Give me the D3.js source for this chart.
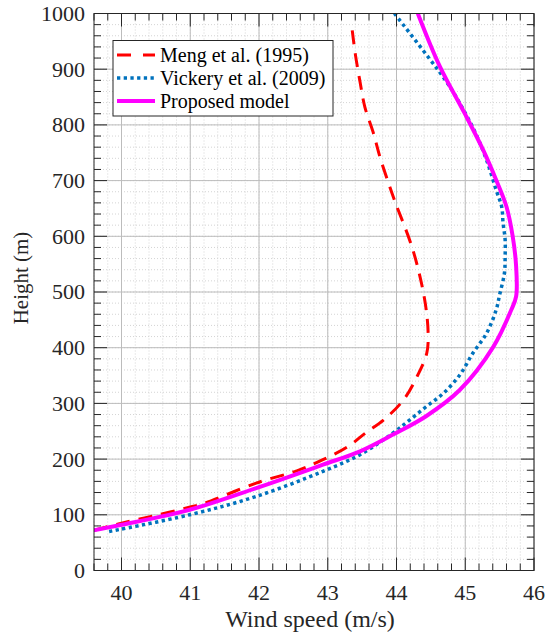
<!DOCTYPE html>
<html>
<head>
<meta charset="utf-8">
<script src="https://cdn.jsdelivr.net/npm/d3@7"></script>
<style>
  body { margin: 0; background: #fff; }
</style>
</head>
<body>
<div id="chart"></div>
<script>
// values (height in m, speed in m/s)
const seriesNames = ['Meng et al. (1995)', 'Vickery et al. (2009)', 'Proposed model'];

const mengHeight = [72, 85, 99, 114, 120, 157, 179, 199, 223, 247, 270, 306, 351, 390, 426, 486, 575, 665, 697, 742, 787, 832, 877, 928, 976];
const mengSpeed  = [39.6, 40.0, 40.5, 41.0, 41.19, 41.96, 42.55, 42.93, 43.30, 43.55, 43.81, 44.10, 44.31, 44.44, 44.46, 44.41, 44.24, 43.97, 43.88, 43.76, 43.66, 43.54, 43.47, 43.40, 43.35];

const vickHeight = [70, 100, 133, 178, 208, 247, 270, 294, 318, 351, 390, 426, 468, 495, 534, 564, 594, 624, 653, 683, 737, 785, 839, 877, 922, 1000];
const vickSpeed  = [39.82, 40.99, 41.96, 42.93, 43.47, 43.95, 44.19, 44.43, 44.68, 44.92, 45.11, 45.31, 45.45, 45.50, 45.57, 45.58, 45.58, 45.55, 45.53, 45.45, 45.31, 45.15, 44.92, 44.73, 44.46, 43.97];

const propHeight = [72, 82, 109, 148, 190, 214, 244, 277, 324, 402, 468, 492, 546, 600, 653, 701, 755, 821, 905, 1000];
const propSpeed  = [39.59, 40.0, 40.99, 41.96, 42.93, 43.47, 43.95, 44.43, 44.92, 45.41, 45.67, 45.74, 45.74, 45.69, 45.60, 45.45, 45.26, 44.99, 44.63, 44.31];

const xTicks = [40, 41, 42, 43, 44, 45, 46];
const yTicks = [0, 100, 200, 300, 400, 500, 600, 700, 800, 900, 1000];

const width = 545, height = 635;
const margin = {top: 13.5, right: 11, bottom: 64.5, left: 94};
const serif = "'Liberation Serif', serif";

const svg = d3.select('#chart').append('svg')
  .attr('width', width)
  .attr('height', height);

const x = d3.scaleLinear().domain([39.6, 46]).range([margin.left, width - margin.right]);
const y = d3.scaleLinear().domain([0, 1000]).range([height - margin.bottom, margin.top]);

const x0 = margin.left, x1 = width - margin.right;
const y0 = height - margin.bottom, y1 = margin.top;

// minor grid
const xMinor = d3.range(39.6, 46.001, 0.2).map(d => +d.toFixed(1));
const yMinor = d3.range(0, 1001, 20);

const grid = svg.append('g');
grid.selectAll('.xminor').data(xMinor).enter().append('line')
  .attr('x1', d => x(d)).attr('x2', d => x(d)).attr('y1', y0).attr('y2', y1)
  .attr('stroke', '#d4d4d4').attr('stroke-width', 1).attr('stroke-dasharray', '1,2');
grid.selectAll('.yminor').data(yMinor).enter().append('line')
  .attr('y1', d => y(d)).attr('y2', d => y(d)).attr('x1', x0).attr('x2', x1)
  .attr('stroke', '#d4d4d4').attr('stroke-width', 1).attr('stroke-dasharray', '1,2');

// major grid
grid.selectAll('.xmajor').data(xTicks).enter().append('line')
  .attr('x1', d => x(d)).attr('x2', d => x(d)).attr('y1', y0).attr('y2', y1)
  .attr('stroke', '#bcbcbc').attr('stroke-width', 1);
grid.selectAll('.ymajor').data(yTicks).enter().append('line')
  .attr('y1', d => y(d)).attr('y2', d => y(d)).attr('x1', x0).attr('x2', x1)
  .attr('stroke', '#bcbcbc').attr('stroke-width', 1);

// curves
const line = d3.line()
  .x(d => x(d.v))
  .y(d => y(d.h))
  .curve(d3.curveCatmullRom.alpha(0.5));

const meng = mengHeight.map((h, i) => ({h: h, v: mengSpeed[i]}));
const vick = vickHeight.map((h, i) => ({h: h, v: vickSpeed[i]}));
const prop = propHeight.map((h, i) => ({h: h, v: propSpeed[i]}));

const styles = [
  {color: '#ff0000', width: 3, dash: '14,9'},
  {color: '#0072bd', width: 3.5, dash: '3.3,3.4'},
  {color: '#ff00ff', width: 4, dash: null}
];

svg.append('defs').append('clipPath').attr('id', 'clip')
  .append('rect').attr('x', x0).attr('y', y1).attr('width', x1 - x0).attr('height', y0 - y1);

const plot = svg.append('g').attr('clip-path', 'url(#clip)');
[meng, vick, prop].forEach((data, i) => {
  plot.append('path')
    .datum(data)
    .attr('d', line)
    .attr('fill', 'none')
    .attr('stroke', styles[i].color)
    .attr('stroke-width', styles[i].width)
    .attr('stroke-dasharray', styles[i].dash)
    .attr('stroke-linecap', 'butt')
    .attr('stroke-linejoin', 'round');
});

// box + inward ticks on all four sides
const axisColor = '#262626';
const ticks = svg.append('g').attr('stroke', axisColor).attr('stroke-width', 1);
xMinor.forEach(d => {
  const len = xTicks.includes(d) ? 13 : 7;
  ticks.append('line').attr('x1', x(d)).attr('x2', x(d)).attr('y1', y0).attr('y2', y0 - len);
  ticks.append('line').attr('x1', x(d)).attr('x2', x(d)).attr('y1', y1).attr('y2', y1 + len);
});
yMinor.forEach(d => {
  const len = yTicks.includes(d) ? 13 : 7;
  ticks.append('line').attr('y1', y(d)).attr('y2', y(d)).attr('x1', x0).attr('x2', x0 + len);
  ticks.append('line').attr('y1', y(d)).attr('y2', y(d)).attr('x1', x1).attr('x2', x1 - len);
});
svg.append('rect')
  .attr('x', x0).attr('y', y1).attr('width', x1 - x0).attr('height', y0 - y1)
  .attr('fill', 'none').attr('stroke', axisColor).attr('stroke-width', 1);

// tick labels
svg.append('g').selectAll('text').data(xTicks).enter().append('text')
  .attr('x', d => x(d)).attr('y', y0 + 29)
  .attr('text-anchor', 'middle')
  .style('font-family', serif)
  .attr('font-size', 22).attr('fill', axisColor)
  .text(d => d);
svg.append('g').selectAll('text').data(yTicks).enter().append('text')
  .attr('x', x0 - 9).attr('y', d => y(d)).attr('dy', '0.34em')
  .attr('text-anchor', 'end')
  .style('font-family', serif)
  .attr('font-size', 22).attr('fill', axisColor)
  .text(d => d);

// axis titles
svg.append('text')
  .attr('x', (x0 + x1) / 2 - 4).attr('y', 627)
  .attr('text-anchor', 'middle').attr('font-size', 24).attr('fill', axisColor)
  .style('font-family', serif)
  .text('Wind speed (m/s)');
svg.append('text')
  .attr('transform', 'translate(28,' + 278 + ') rotate(-90)')
  .attr('text-anchor', 'middle').attr('font-size', 21).attr('fill', axisColor)
  .style('font-family', serif)
  .text('Height (m)');

// legend
const lg = svg.append('g');
lg.append('rect')
  .attr('x', 113).attr('y', 40.5).attr('width', 220).attr('height', 75.5)
  .attr('fill', '#fff').attr('stroke', axisColor).attr('stroke-width', 1);
seriesNames.forEach((name, i) => {
  const ly = 55 + i * 23;
  lg.append('line')
    .attr('x1', 117).attr('x2', 155).attr('y1', ly).attr('y2', ly)
    .attr('stroke', styles[i].color)
    .attr('stroke-width', styles[i].width)
    .attr('stroke-dasharray', i === 0 ? '14,12' : styles[i].dash);
  lg.append('text')
    .attr('x', 160).attr('y', ly).attr('dy', '0.35em')
    .style('font-family', serif)
    .attr('font-size', 20).attr('fill', '#000')
    .text(name);
});
</script>
</body>
</html>
